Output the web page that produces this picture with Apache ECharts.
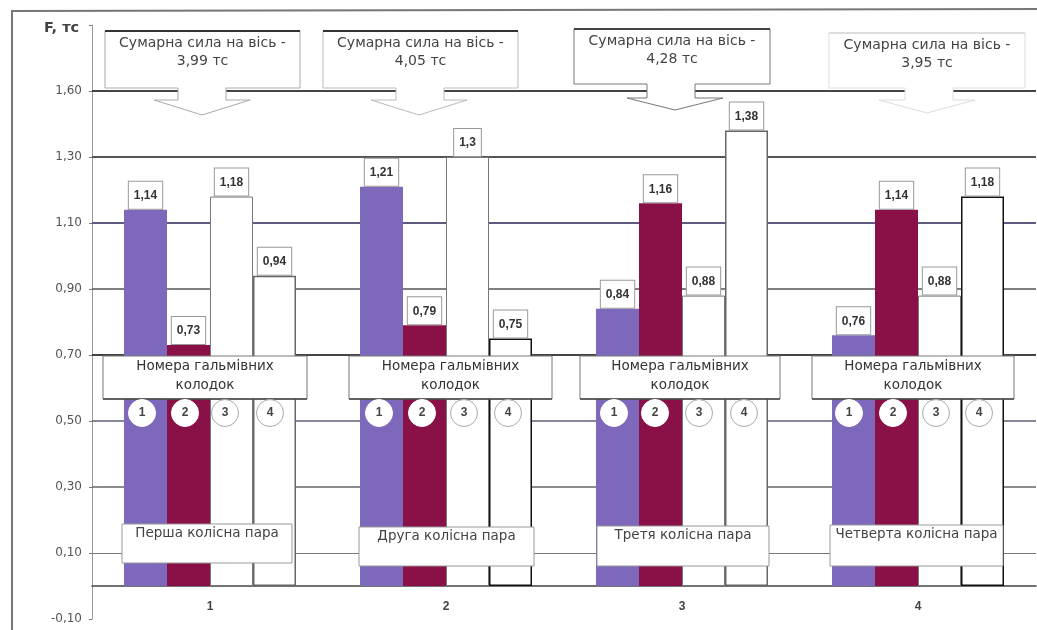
<!DOCTYPE html>
<html>
<head>
<meta charset="utf-8">
<style>html,body{margin:0;padding:0;background:#fff}#chart{width:1037px;height:630px}</style>
<script src="https://cdn.jsdelivr.net/npm/echarts@6/dist/echarts.min.js"></script>
</head>
<body>
<div id="chart"></div>
<script>
// Сили притискання гальмівних колодок по колісних парах
const categories = ['1', '2', '3', '4'];
const shoe1 = [1.14, 1.21, 0.84, 0.76];
const shoe2 = [0.73, 0.79, 1.16, 1.14];
const shoe3 = [1.18, 1.30, 0.88, 0.88];
const shoe4 = [0.94, 0.75, 1.38, 1.18];

const tickValues = [-0.1, 0.1, 0.3, 0.5, 0.7, 0.9, 1.1, 1.3, 1.5, 1.7];
const tickLabels = ['-0,10', '0,10', '0,30', '0,50', '0,70', '0,90', '1,10', '1,30', '1,60', ''];
const axleTotals = ['3,99', '4,05', '4,28', '3,95'];
const wheelPairs = ['Перша колісна пара', 'Друга колісна пара', 'Третя колісна пара', 'Четверта колісна пара'];
const shoeNumbers = ['1', '2', '3', '4'];

// Горизонтальні лінії сітки: значення, колір, товщина
const gridValues = [0.1, 0.3, 0.5, 0.7, 0.9, 1.1, 1.3, 1.5];
const gridColors = ['#777', '#666', '#5f5f78', '#444', '#555', '#5d5a80', '#555', '#444'];
const gridWidths = [1, 1.5, 1.5, 2, 1.5, 2, 2, 2];

// Контури білих стовпчиків за колісними парами
const shoe4Edges = ['#666', '#111', '#666', '#111'];

// Розміщення підписів поверх графіка
const calloutBoxes = [
  { x: 105, y: 31, w: 195, h: 57, stem: 178, apex: 202, headY: 100, tipY: 115, top: '#333', side: '#aaa' },
  { x: 323, y: 31, w: 195, h: 57, stem: 396, apex: 419, headY: 100, tipY: 115, top: '#333', side: '#bbb' },
  { x: 574, y: 29, w: 196, h: 55, stem: 647, apex: 675, headY: 98, tipY: 110, top: '#444', side: '#777' },
  { x: 829, y: 33, w: 196, h: 55, stem: 905, apex: 927, headY: 100, tipY: 113, top: '#ddd', side: '#ddd' }
];
const shoeBoxes = [
  { x: 103, y: 356, w: 204, h: 43 }, { x: 349, y: 356, w: 203, h: 43 },
  { x: 580, y: 356, w: 200, h: 43 }, { x: 812, y: 356, w: 202, h: 43 }
];
const pairBoxes = [
  { x: 122, y: 524, w: 170, h: 39 }, { x: 359, y: 527, w: 175, h: 39 },
  { x: 597, y: 526, w: 172, h: 40 }, { x: 830, y: 525, w: 173, h: 41 }
];
const circleCentres = [[142, 185, 225, 270], [379, 422, 464, 508], [614, 655, 699, 744], [849, 893, 936, 979]];
const circleY = 413;

const textFont = '"Liberation Sans", Arial, sans-serif';
const noteFont = '"DejaVu Sans", sans-serif';

function barLabel() {
  return {
    show: true,
    position: 'top',
    distance: 1,
    formatter: p => String(p.value).replace('.', ','),
    backgroundColor: '#fff',
    borderColor: '#999',
    borderWidth: 1,
    padding: [8, 5, 7, 5],
    color: '#333',
    fontFamily: textFont,
    fontWeight: 'bold',
    fontSize: 12
  };
}

function barSeries(name, values, fill, edge, edgeWidth) {
  return {
    name, type: 'bar', data: values, z: 3,
    barWidth: 43, barGap: 0,
    itemStyle: { color: fill, borderColor: edge, borderWidth: edgeWidth },
    label: barLabel()
  };
}

const overlays = [];
// Рамка сторінки
overlays.push({ type: 'polyline', z: 20, shape: { points: [[12, 630], [12, 11], [1037, 9]] }, style: { fill: null, stroke: '#777', lineWidth: 2 } });
overlays.push({ type: 'text', z: 30, style: { x: 44, y: 21, text: 'F, тс', font: 'bold 14.5px ' + noteFont, fill: '#444' } });

calloutBoxes.forEach((b, i) => {
  const stemR = b.stem + 48, right = b.x + b.w, bottom = b.y + b.h;
  overlays.push({
    type: 'polygon', z: 20,
    shape: { points: [[b.x, b.y], [right, b.y], [right, bottom], [stemR, bottom], [stemR, b.headY], [b.apex + 48, b.headY], [b.apex, b.tipY], [b.apex - 48, b.headY], [b.stem, b.headY], [b.stem, bottom], [b.x, bottom]] },
    style: { fill: '#fff', stroke: b.side, lineWidth: 1 }
  });
  overlays.push({ type: 'line', z: 21, shape: { x1: b.x, y1: b.y, x2: right, y2: b.y }, style: { stroke: b.top, lineWidth: 2 } });
  overlays.push({
    type: 'text', z: 22,
    style: { x: (b.x + right) / 2, y: b.y + 3, text: 'Сумарна сила на вісь -\n' + axleTotals[i] + ' тс', align: 'center', font: '14px ' + noteFont, fill: '#444', lineHeight: 18 }
  });
});

shoeBoxes.forEach(b => {
  overlays.push({ type: 'rect', z: 20, shape: { x: b.x, y: b.y, width: b.w, height: b.h }, style: { fill: '#fff', stroke: '#777', lineWidth: 1 } });
  overlays.push({ type: 'line', z: 21, shape: { x1: b.x, y1: b.y + b.h, x2: b.x + b.w, y2: b.y + b.h }, style: { stroke: '#444', lineWidth: 1.5 } });
  overlays.push({
    type: 'text', z: 22,
    style: { x: b.x + b.w / 2, y: b.y + 1, text: 'Номера гальмівних\nколодок', align: 'center', font: '13.5px ' + noteFont, fill: '#333', lineHeight: 19 }
  });
});

circleCentres.forEach(group => group.forEach((cx, i) => {
  overlays.push({
    type: 'circle', z: 23,
    shape: { cx, cy: circleY, r: 13.5 },
    style: { fill: '#fff', stroke: i < 2 ? '#fff' : '#aaa', lineWidth: 1 }
  });
  overlays.push({
    type: 'text', z: 24,
    style: { x: cx, y: circleY - 6, text: shoeNumbers[i], align: 'center', font: 'bold 12px ' + textFont, fill: '#444' }
  });
}));

pairBoxes.forEach((b, i) => {
  overlays.push({ type: 'rect', z: 20, shape: { x: b.x, y: b.y, width: b.w, height: b.h }, style: { fill: '#fff', stroke: '#999', lineWidth: 1 } });
  overlays.push({
    type: 'text', z: 22,
    style: { x: b.x + b.w / 2, y: b.y + 2, text: wheelPairs[i], align: 'center', font: '13.5px ' + noteFont, fill: '#444' }
  });
});

const chart = echarts.init(document.getElementById('chart'), null, { renderer: 'canvas' });
chart.setOption({
  animation: false,
  backgroundColor: '#fff',
  grid: { left: 92, right: 1, top: 25, bottom: 11, outerBoundsMode: 'none' },
  xAxis: {
    type: 'category',
    data: categories,
    axisTick: { show: false },
    axisLine: { onZero: true, lineStyle: { color: '#444', width: 1.5 } },
    axisLabel: { margin: -18, color: '#444', fontFamily: textFont, fontWeight: 'bold', fontSize: 12 }
  },
  yAxis: {
    type: 'value',
    min: -0.1,
    max: 1.7,
    interval: 0.1,
    splitLine: { show: false },
    axisLine: { show: true, onZero: false, lineStyle: { color: '#999', width: 1 } },
    axisTick: { show: true, length: 3, customValues: tickValues, lineStyle: { color: '#777' } },
    axisLabel: {
      customValues: tickValues,
      margin: 10,
      color: '#555',
      fontFamily: noteFont,
      fontSize: 12,
      formatter: v => tickLabels[tickValues.findIndex(t => Math.abs(t - v) < 1e-6)] ?? ''
    }
  },
  series: [
    {
      name: 'сітка', type: 'line', data: [], z: 1, silent: true,
      markLine: {
        z: 1, silent: true, symbol: 'none', animation: false,
        label: { show: false },
        data: gridValues.map((v, i) => ({ yAxis: v, lineStyle: { type: 'solid', color: gridColors[i], width: gridWidths[i] } }))
      }
    },
    barSeries('Колодка 1', shoe1, '#7d68bb', '#7d68bb', 0),
    barSeries('Колодка 2', shoe2, '#8a1048', '#8a1048', 0),
    barSeries('Колодка 3', shoe3, '#fff', '#777', 1),
    {
      ...barSeries('Колодка 4', [], '#fff', '#444', 1.5),
      data: shoe4.map((value, i) => ({ value, itemStyle: { borderColor: shoe4Edges[i] } }))
    }
  ],
  graphic: overlays
});
</script>
</body>
</html>
